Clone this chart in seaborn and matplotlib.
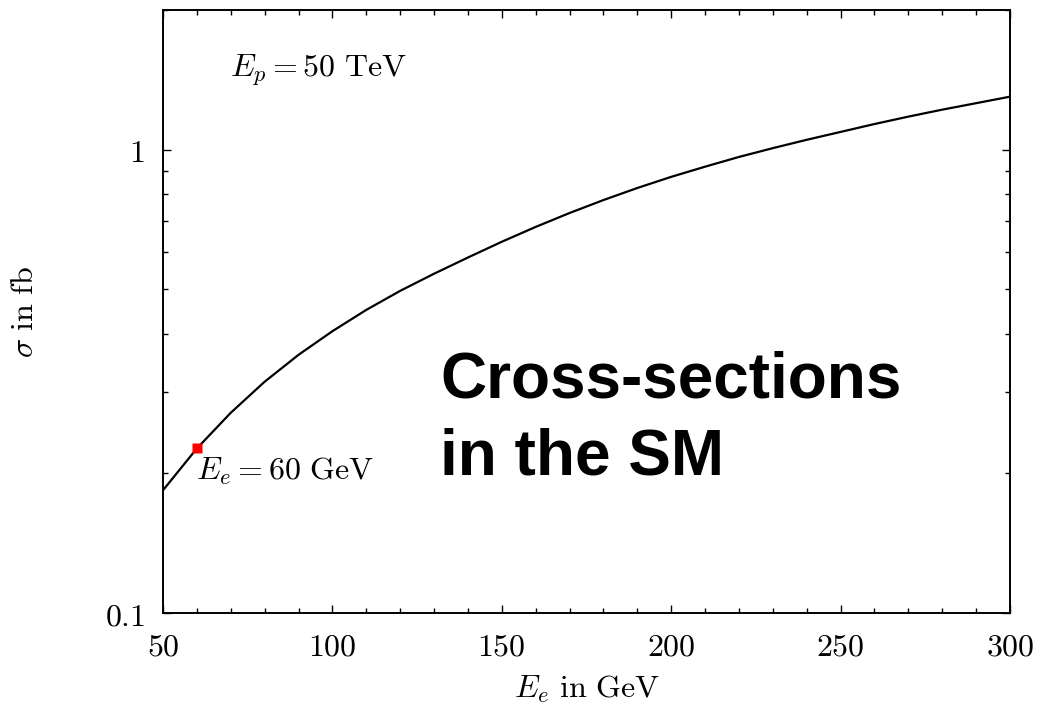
import matplotlib
matplotlib.use("Agg")
import matplotlib.pyplot as plt
from matplotlib.ticker import FixedLocator, MultipleLocator, NullFormatter, FuncFormatter
import seaborn as sns
import pandas as pd

# cross-section curve (sigma in fb vs electron energy in GeV)
e_electron = [50, 60, 70, 80, 90, 100, 110, 120, 130, 140, 150, 160, 170, 180, 190,
              200, 210, 220, 230, 240, 250, 260, 270, 280, 290, 300]
sigma_fb = [0.184, 0.2265, 0.2704, 0.3155, 0.3606, 0.4055, 0.4508, 0.4955, 0.5395,
            0.5848, 0.6324, 0.6808, 0.7295, 0.778, 0.826, 0.873, 0.9183, 0.9638,
            1.0069, 1.0495, 1.0914, 1.135, 1.1776, 1.219, 1.2589, 1.3002]
marked_e = [60]
marked_sigma = [0.2265]
y_ticks = [0.1, 1]
y_tick_labels = ["0.1", "1"]

df = pd.DataFrame({"E_e": e_electron, "sigma": sigma_fb})

sns.set_theme(style="ticks")
plt.rcParams["mathtext.fontset"] = "cm"
plt.rcParams["font.family"] = ["DejaVu Serif"]

fig = plt.figure(figsize=(10.41, 7.10), dpi=100)
ax = fig.add_axes([163 / 1041, 97 / 710, 847 / 1041, 603 / 710])

sns.lineplot(data=df, x="E_e", y="sigma", ax=ax, color="black", linewidth=1.6)
ax.plot(marked_e, marked_sigma, "s", color="#ff0000", markersize=7, mec="none", zorder=5)

ax.set_yscale("log")
ax.set_xlim(50, 300)
ax.set_ylim(0.1, 2.0)

ax.xaxis.set_major_locator(MultipleLocator(50))
ax.xaxis.set_minor_locator(MultipleLocator(10))
ax.xaxis.set_major_formatter(FuncFormatter(lambda v, p: r"$%d$" % v))
ax.yaxis.set_major_locator(FixedLocator(y_ticks))
ax.yaxis.set_major_formatter(FuncFormatter(
    lambda v, p: r"$%s$" % y_tick_labels[y_ticks.index(v)] if v in y_ticks else ""))
ax.yaxis.set_minor_locator(FixedLocator([k * 0.1 for k in range(2, 10)] + [2.0]))
ax.yaxis.set_minor_formatter(NullFormatter())

ax.tick_params(which="both", direction="in", top=True, right=True, width=1.0,
               colors="black", labelsize=23, pad=13)
ax.tick_params(which="major", length=6)
ax.tick_params(which="minor", length=3.5)
for s in ax.spines.values():
    s.set_linewidth(1.4)
    s.set_color("black")

ax.set_xlabel(r"$E_e\ \mathrm{in\ GeV}$", fontsize=23, color="black")
ax.set_ylabel(r"$\sigma\ \mathrm{in\ fb}$", fontsize=23, color="black")
ax.xaxis.set_label_coords(0.5, -0.100)
ax.yaxis.set_label_coords(-0.145, 0.5)

ax.text(0.079, 0.900, r"$E_p = 50\ \mathrm{TeV}$", transform=ax.transAxes,
        fontsize=23, ha="left", va="center", color="black")
ax.text(0.039, 0.235, r"$E_e = 60\ \mathrm{GeV}$", transform=ax.transAxes,
        fontsize=23, ha="left", va="center", color="black")

ax.text(0.327, 0.357, "Cross-sections", transform=ax.transAxes, fontsize=46,
        fontweight="bold", family=["Liberation Sans"], ha="left", va="baseline",
        color="black")
ax.text(0.327, 0.229, "in the SM", transform=ax.transAxes, fontsize=46,
        fontweight="bold", family=["Liberation Sans"], ha="left", va="baseline",
        color="black")

fig.savefig("out.png", dpi=100, facecolor="white")
